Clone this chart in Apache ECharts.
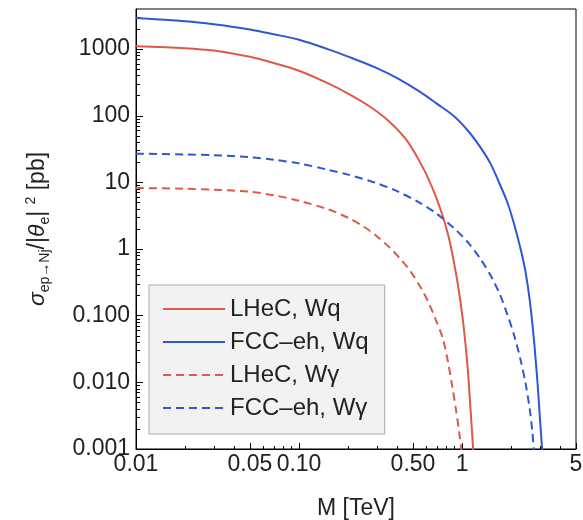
<!DOCTYPE html>
<html><head><meta charset="utf-8">
<script src="https://cdn.jsdelivr.net/npm/echarts@6/dist/echarts.min.js"></script>
<style>html,body{margin:0;padding:0;background:#fff}#c{width:583px;height:520px}</style>
</head><body><div id="c"></div>
<script>
// ---- data ----
const lhecWqM = [0.01, 0.02, 0.03, 0.05, 0.07, 0.1, 0.15, 0.2, 0.27, 0.35, 0.45, 0.55, 0.65, 0.75, 0.83, 0.9, 0.96, 1.02, 1.08, 1.13, 1.17, 1.19];
const lhecWqS = [1109, 1035, 953, 766, 618, 474, 308, 215, 139, 85.9, 45.3, 20.5, 8.9, 3.51, 1.48, 0.561, 0.221, 0.073, 0.0177, 0.00361, 0.00097, 0.00049];

const fccWqM = [0.01, 0.02, 0.03, 0.05, 0.07, 0.1, 0.15, 0.2, 0.3, 0.4, 0.55, 0.7, 0.9, 1.1, 1.3, 1.5, 1.7, 1.9, 2.1, 2.3, 2.45, 2.6, 2.75, 2.9, 3.0, 3.1, 3.15];
const fccWqS = [2940, 2630, 2364, 1977, 1675, 1380, 1000, 771, 519, 367, 230, 152, 96.9, 57.6, 33.2, 18.8, 9.55, 4.95, 2.24, 0.942, 0.456, 0.173, 0.0482, 0.0102, 0.00303, 0.00097, 0.00054];

const lhecWgM = [0.01, 0.02, 0.03, 0.05, 0.07, 0.1, 0.15, 0.2, 0.25, 0.3, 0.36, 0.42, 0.48, 0.55, 0.62, 0.69, 0.76, 0.82, 0.87, 0.92, 0.96, 0.99, 1.01];
const lhecWgS = [8.24, 8.04, 7.76, 7.24, 6.42, 5.31, 3.96, 2.95, 2.16, 1.56, 1.05, 0.703, 0.472, 0.281, 0.162, 0.0868, 0.0466, 0.0203, 0.00887, 0.00374, 0.00181, 0.0010, 0.00066];

const fccWgM = [0.01, 0.02, 0.03, 0.05, 0.07, 0.1, 0.15, 0.2, 0.3, 0.4, 0.55, 0.7, 0.9, 1.1, 1.3, 1.5, 1.7, 1.9, 2.1, 2.3, 2.45, 2.6, 2.7, 2.76];
const fccWgS = [27.0, 26.3, 25.6, 23.9, 21.9, 19.3, 15.5, 13.1, 9.73, 7.38, 4.95, 3.39, 2.02, 1.22, 0.703, 0.397, 0.213, 0.103, 0.0482, 0.0203, 0.00982, 0.0040, 0.00181, 0.0009];

const seriesNames = ['LHeC, Wq', 'FCC\u2013eh, Wq', 'LHeC, W\u03b3', 'FCC\u2013eh, W\u03b3'];

const xTicksMajor = [0.01, 0.05, 0.1, 0.5, 1, 5];
const xTicksMinor = [0.02, 0.03, 0.04, 0.06, 0.07, 0.08, 0.09, 0.2, 0.3, 0.4, 0.6, 0.7, 0.8, 0.9, 2, 3, 4];
const yTicksMajor = [0.001, 0.01, 0.1, 1, 10, 100, 1000];
const yDecades = [0.001, 0.01, 0.1, 1, 10, 100, 1000];
const yMinorMult = [2, 3, 4, 5, 6, 7, 8, 9];

// ---- build ----
const yTicksMinor = [];
yDecades.forEach(d => yMinorMult.forEach(m => { const v = +(d * m).toPrecision(3); if (v < 4000) yTicksMinor.push(v); }));

const zip = (a, b) => a.map((v, i) => [v, b[i]]);
const FONT = "'Liberation Sans', Arial, sans-serif";
const RED = '#dd5a48', BLUE = '#2f57d0';
const TXT = '#222';

const baseText = { fontFamily: FONT, color: TXT };

function mkSeries(name, M, S, color, dashed) {
  return {
    name, type: 'line', data: zip(M, S), symbol: 'none', smooth: 0.3,
    clip: true,
    lineStyle: { color, width: 2, type: dashed ? [8, 5] : 'solid' },
    itemStyle: { color }
  };
}

const chart = echarts.init(document.getElementById('c'), null, { renderer: 'canvas' });
chart.setOption({
  animation: false,
  backgroundColor: '#fff',
  grid: { left: 136, right: 7, top: 9, bottom: 71, show: true, borderColor: '#000', borderWidth: 1, outerBoundsMode: 'none' },
  legend: {
    orient: 'vertical', left: 149, top: 285,
    padding: [11, 16, 13, 13],
    backgroundColor: '#f2f2f2', borderColor: '#aaa', borderWidth: 1,
    itemWidth: 62, itemHeight: 14, itemGap: 7,
    itemStyle: { opacity: 0 },
    textStyle: Object.assign({ fontSize: 24, lineHeight: 26 }, baseText),
    data: seriesNames
  },
  xAxis: [
    {
      type: 'log', min: 0.01, max: 5, position: 'bottom',
      axisLine: { show: true, lineStyle: { color: '#000', width: 1 } },
      axisTick: { show: true, inside: true, length: 6, customValues: xTicksMajor, lineStyle: { color: '#000' } },
      axisLabel: Object.assign({ customValues: xTicksMajor, margin: 4, fontSize: 23,
        formatter: v => (v < 1 ? v.toFixed(2) : String(Math.round(v))) }, baseText),
      splitLine: { show: false },
      name: 'M [TeV]', nameLocation: 'middle', nameGap: 48,
      nameTextStyle: Object.assign({ fontSize: 23 }, baseText)
    },
    {
      type: 'log', min: 0.01, max: 5, position: 'bottom',
      axisLine: { show: false },
      axisTick: { show: true, inside: true, length: 3, customValues: xTicksMinor, lineStyle: { color: '#000' } },
      axisLabel: { show: false },
      splitLine: { show: false }
    }
  ],
  yAxis: [
    {
      type: 'log', min: 0.001, max: 4000, position: 'left',
      axisLine: { show: true, lineStyle: { color: '#000', width: 1 } },
      axisTick: { show: true, inside: true, length: 7, customValues: yTicksMajor, lineStyle: { color: '#000' } },
      axisLabel: Object.assign({ customValues: yTicksMajor, margin: 6, fontSize: 23,
        formatter: v => (v < 1 ? v.toFixed(3) : String(Math.round(v))) }, baseText),
      splitLine: { show: false },
      name: '{i|\u03c3}{sub|ep\u2192Nj}{n|/|}{i|\u03b8}{sub|e}{n|| }{sup|2}{n| [pb]}',
      nameLocation: 'middle', nameRotate: 90, nameGap: 84,
      nameTextStyle: Object.assign({
        fontSize: 23, lineHeight: 28,
        rich: {
          i: Object.assign({ fontSize: 23, fontStyle: 'italic', lineHeight: 28 }, baseText),
          n: Object.assign({ fontSize: 23, lineHeight: 28 }, baseText),
          sub: Object.assign({ fontSize: 14, lineHeight: 16, verticalAlign: 'bottom' }, baseText),
          sup: Object.assign({ fontSize: 14, lineHeight: 16, verticalAlign: 'top' }, baseText)
        }
      }, baseText)
    },
    {
      type: 'log', min: 0.001, max: 4000, position: 'left',
      axisLine: { show: false },
      axisTick: { show: true, inside: true, length: 4, customValues: yTicksMinor, lineStyle: { color: '#000' } },
      axisLabel: { show: false },
      splitLine: { show: false }
    }
  ],
  series: [
    mkSeries(seriesNames[0], lhecWqM, lhecWqS, RED, false),
    mkSeries(seriesNames[1], fccWqM, fccWqS, BLUE, false),
    mkSeries(seriesNames[2], lhecWgM, lhecWgS, RED, true),
    mkSeries(seriesNames[3], fccWgM, fccWgS, BLUE, true)
  ]
});
</script>
</body></html>
